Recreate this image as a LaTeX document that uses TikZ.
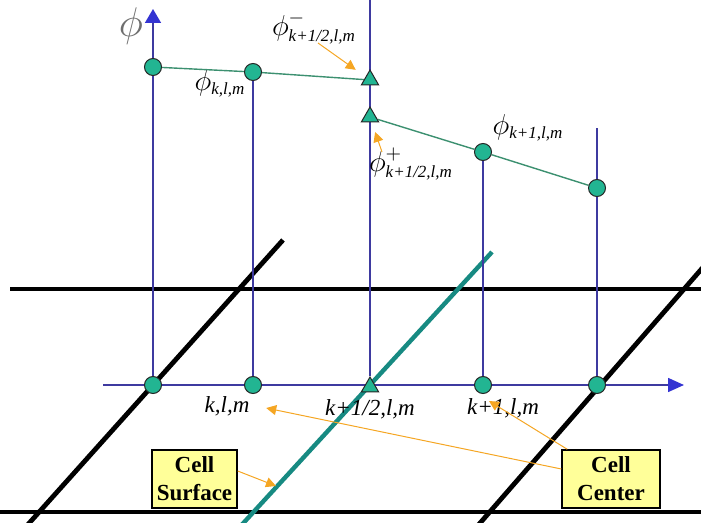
\documentclass[tikz,border=0pt]{standalone}
\usepackage{amsmath}
\usepackage{fontspec}
\setmainfont{Liberation Serif}
\usepackage{tikz}
\usetikzlibrary{arrows.meta,positioning,calc,shapes.geometric,backgrounds}
\definecolor{gridc}{HTML}{3E3AA0}
\definecolor{axisc}{HTML}{3434D2}
\definecolor{curvec}{HTML}{3C9070}
\definecolor{markc}{HTML}{22B592}
\definecolor{facec}{HTML}{178A82}
\definecolor{notec}{HTML}{F5A623}
\definecolor{boxc}{HTML}{FFFF99}
\definecolor{greyc}{HTML}{6E6E6E}

\newcommand{\ix}[1]{\text{\fontsize{8.5}{9}\selectfont\itshape #1}}

\tikzset{
  dot/.style={circle, draw=black!85, fill=markc, line width=0.5pt, inner sep=0pt, minimum size=8.5pt},
  tri/.style={regular polygon, regular polygon sides=3, draw=black!85, fill=markc, line width=0.5pt, inner sep=0pt, minimum size=10pt},
  gridline/.style={gridc, line width=0.8pt},
  wall/.style={black, line width=2.4pt},
  curve/.style={curvec, line width=0.7pt},
  cellbox/.style={draw=black, line width=0.7pt, fill=boxc, align=center, inner sep=0pt,
    font=\bfseries\fontsize{11.5}{14}\selectfont, minimum height=29pt},
  note/.style={notec, line width=0.5pt, -{Triangle[length=5pt,width=5pt]}},
  lab/.style={font=\fontsize{14}{15}\selectfont, inner sep=1pt},
  idx/.style={font=\itshape\fontsize{11.5}{12}\selectfont}
}

\begin{document}
\begin{tikzpicture}[x=0.5pt, y=-0.5pt]
\useasboundingbox (0,0) rectangle (701,523);
\clip (0,0) rectangle (701,523);

% ---- sample points on the phi profile ----
\node[dot] (c1) at (153,67) {};
\node[dot] (c2) at (253,72) {};
\node[tri] (tm) at (370,80) {};
\node[tri] (tp) at (370,117) {};
\node[dot] (c4) at (483,152) {};
\node[dot] (c5) at (597,188) {};

% ---- points on the mesh axis ----
\node[dot] (b1) at (153,385) {};
\node[dot] (b2) at (253,385) {};
\node[tri] (b3) at (370,387) {};
\node[dot] (b4) at (483,385) {};
\node[dot] (b5) at (597,385) {};

\coordinate (ytip) at (153,9);
\coordinate (midtop) at (370,0);
\coordinate (rtop) at (597,128);
\coordinate (xfrom) at (103,385);
\coordinate (xtip) at (684,385);

\begin{scope}[on background layer]
  % cell faces
  \draw[wall] (10,289) -- (701,289);
  \draw[wall] (0,512) -- (701,512);
  \draw[wall] (283,240) -- (23,530);
  \draw[wall] (712,257) -- (474,530);
  \draw[facec, line width=2.2pt] (492,252) -- (237,530);
  % verticals and axes
  \draw[gridline, -{Triangle[length=7pt,width=8pt,color=axisc]}] (b1) -- (ytip);
  \draw[gridline] (b2) -- (c2);
  \draw[gridline] (b3) -- (midtop);
  \draw[gridline] (b4) -- (c4);
  \draw[gridline] (b5) -- (rtop);
  \draw[gridline, -{Triangle[length=8pt,width=7pt,color=axisc]}] (xfrom) -- (xtip);
  % profile
  \draw[curve] (c1) -- (c2) -- (tm);
  \draw[curve] (tp) -- (c4) -- (c5);
\end{scope}

% ---- labels ----
\node[greyc, font=\fontsize{22}{24}\selectfont] (phiax) at (131,26) {$\phi$};
\node[lab] (phik) at (220,84) {$\phi_{\ix{k,l,m}}$};
\node[lab] (phim) at (314,28) {$\phi^{-}_{\ix{k+1/2,l,m}}$};
\node[lab] (phip) at (411,164) {$\phi^{+}_{\ix{k+1/2,l,m}}$};
\node[lab] (phin) at (528,128) {$\phi_{\ix{k+1,l,m}}$};
\node[idx] (klm) at (227,406) {k,l,m};
\node[idx] (khalf) at (370,409) {k+1/2,l,m};
\node[idx] (kone) at (503,408) {k+1,l,m};

\node[cellbox, minimum width=42.5pt] (surf) at (194.5,479) {Cell\\Surface};
\node[cellbox, minimum width=49pt] (cent) at (611,479) {Cell\\Center};

% ---- pointers ----
\coordinate (mtail) at (318,43);
\coordinate (ptail) at (382,152);
\coordinate (surftip) at (276,486);
\coordinate (centtip) at (489,401);
\draw[note, shorten >=6pt] (mtail) -- (tm);
\draw[note, shorten >=5pt] (ptail) -- (tp);
\draw[note] ([yshift=4pt]surf.east) -- (surftip);
\draw[note, shorten >=5pt] ([yshift=5pt]cent.west) -- (klm.east);
\draw[note] ([xshift=3pt]cent.north west) -- (centtip);
\end{tikzpicture}
\end{document}
